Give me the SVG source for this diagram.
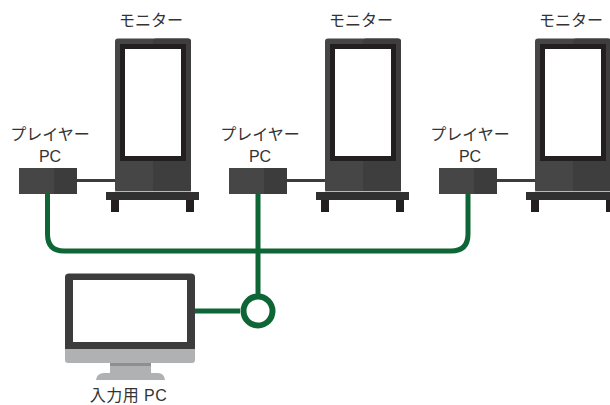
<svg xmlns="http://www.w3.org/2000/svg" xmlns:xlink="http://www.w3.org/1999/xlink" width="610" height="405" viewBox="0 0 610 405">
<style>
text{font-family:"Noto Sans CJK JP","Liberation Sans",sans-serif;font-size:16px;fill:#333;text-anchor:middle}
.lat{font-family:"Liberation Sans","Noto Sans CJK JP",sans-serif}
.g{fill:none;stroke:#0e6636;stroke-width:5}
.k{fill:none;stroke:#3c3c3c;stroke-width:3}
</style>
<defs>
<g id="mon">
<rect x="115" y="38.500" width="76" height="154" rx="3" fill="#464646"/>
<rect x="153" y="38.500" width="38" height="154" rx="3" fill="#3e3e3e"/>
<rect x="115" y="191" width="76" height="1.500" fill="#b8b8b8"/>
<rect x="120" y="44" width="66" height="117" fill="#231f20"/>
<rect x="125" y="49" width="56" height="107" fill="#fff"/>
<rect x="106" y="192" width="93" height="8" fill="#2f302f"/>
<rect x="111" y="200" width="8" height="12" fill="#231f20"/>
<rect x="186" y="200" width="8" height="12" fill="#231f20"/>
</g>
<g id="pc">
<rect x="19" y="168" width="58" height="26" fill="#464646"/>
<rect x="54" y="168" width="23" height="26" fill="#3c3c3c"/>
</g>
</defs>
<g id="connectors">
<path class="k" d="M77 180.500H115M287 180.500H325M497 180.500H535"/>
<path class="g" d="M47.500 194V234Q47.500 251 64 251H451Q468 251 468 234V194M258 194V295M195 311H240"/>
</g>
<g id="monitor1"><use xlink:href="#mon"/><text x="151" y="26">モニター</text></g>
<g id="monitor2"><use xlink:href="#mon" x="210"/><text x="361" y="26">モニター</text></g>
<g id="monitor3"><use xlink:href="#mon" x="420"/><text x="571" y="26">モニター</text></g>
<g id="player1"><use xlink:href="#pc"/><text x="50" y="140">プレイヤー</text><text class="lat" x="50" y="162">PC</text></g>
<g id="player2"><use xlink:href="#pc" x="210"/><text x="260" y="140">プレイヤー</text><text class="lat" x="260" y="162">PC</text></g>
<g id="player3"><use xlink:href="#pc" x="420"/><text x="470" y="140">プレイヤー</text><text class="lat" x="470" y="162">PC</text></g>
<g id="hub"><circle cx="258" cy="311" r="14.500" fill="#fff" stroke="#0e6636" stroke-width="6"/></g>
<g id="input-pc">
<path d="M65 349V277Q65 273.500 69 273.500H191Q195 273.500 195 277V349Z" fill="#3c3c3c"/>
<rect x="73" y="280" width="114" height="62" fill="#fff"/>
<path d="M65 349H195V360Q195 363 192 363H68Q65 363 65 360Z" fill="#b0b1b3"/>
<rect x="110" y="363" width="41" height="10" fill="#b0b1b3"/>
<rect x="110" y="363" width="41" height="3" fill="#8e8f91"/>
<path d="M96 380Q97 373 104 373H158Q164 373 165 380Z" fill="#b0b1b3"/>
<text class="lat" x="128.500" y="401" letter-spacing=".5">入力用 PC</text>
</g>
</svg>
